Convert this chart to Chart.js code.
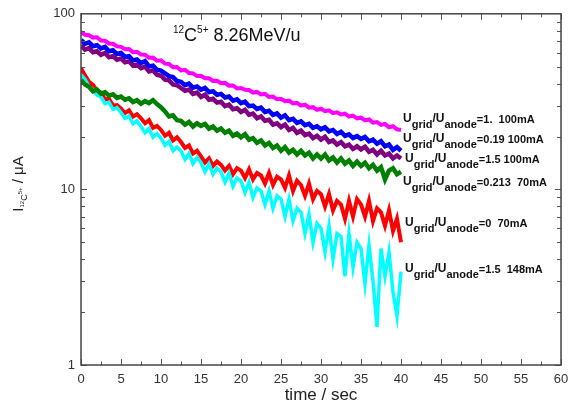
<!DOCTYPE html>
<html>
<head>
<meta charset="utf-8">
<script src="https://cdn.jsdelivr.net/npm/chart.js@4/dist/chart.umd.min.js"></script>
<style>
  body { margin: 0; background: #fff; }
  canvas { display: block; }
</style>
</head>
<body>
<canvas id="beamChart" width="569" height="418"></canvas>
<script>
// time axis: 0 .. 40 s, one sample every 0.5 s
var times = [];
for (var k = 0; k <= 80; k++) times.push(k * 0.5);

var xTicks = [0, 5, 10, 15, 20, 25, 30, 35, 40, 45, 50, 55, 60];
var yTicks = [1, 10, 100];

// beam current in uA
var cur_1_100 = [
  78.5, 76.0, 75.5, 73.2, 73.5, 70.5, 70.2, 67.8, 67.5, 65.2,
  64.8, 62.8, 63.0, 60.5, 60.8, 58.6, 58.5, 56.2, 56.3, 54.0,
  54.3, 52.0, 51.8, 49.6, 49.8, 47.6, 48.0, 46.0, 45.8, 44.2,
  44.4, 43.0, 42.9, 41.5, 41.6, 40.2, 40.4, 39.0, 39.1, 37.6,
  37.8, 36.9, 36.8, 35.6, 35.9, 34.7, 35.0, 33.6, 33.8, 32.6,
  32.8, 31.8, 32.0, 30.9, 31.1, 30.0, 30.4, 29.2, 29.4, 28.4,
  28.8, 27.9, 28.2, 27.2, 27.5, 26.7, 27.0, 26.0, 26.3, 25.4,
  25.6, 24.7, 25.0, 24.0, 24.2, 23.3, 23.6, 22.6, 22.9, 22.0,
  21.8
];
var cur_019_100 = [
  71.0, 67.5, 68.8, 65.4, 66.2, 63.5, 64.8, 61.2, 62.0, 59.0,
  59.8, 56.8, 57.4, 54.2, 55.0, 52.4, 53.8, 50.2, 50.6, 48.0,
  47.5, 45.8, 44.2, 43.6, 41.4, 41.0, 39.2, 40.0, 38.0, 38.6,
  37.0, 37.8, 35.8, 36.2, 34.6, 35.0, 33.4, 33.8, 32.0, 32.6,
  31.0, 31.6, 29.8, 30.0, 28.7, 29.2, 27.6, 28.0, 26.6, 27.1,
  25.6, 26.4, 24.8, 25.2, 23.9, 24.4, 23.2, 23.6, 22.4, 22.9,
  22.0, 22.6, 21.4, 21.8, 20.7, 21.3, 20.2, 20.6, 19.6, 20.1,
  19.4, 19.9, 18.8, 19.2, 18.2, 18.8, 17.6, 18.0, 16.8, 17.4,
  16.6
];
var cur_15_100 = [
  66.0, 62.6, 63.8, 60.4, 61.2, 58.4, 59.8, 56.6, 57.4, 54.8,
  55.6, 53.0, 53.6, 50.6, 51.4, 49.0, 50.0, 47.0, 47.6, 45.0,
  44.4, 42.2, 41.8, 39.6, 39.2, 37.8, 36.4, 37.0, 35.0, 35.6,
  33.6, 34.6, 32.4, 32.8, 31.2, 31.6, 29.8, 30.4, 28.6, 29.0,
  27.6, 28.4, 26.6, 27.0, 25.4, 26.0, 24.6, 24.9, 23.4, 23.8,
  22.6, 23.4, 21.8, 22.4, 21.0, 21.6, 20.4, 20.8, 19.6, 20.2,
  19.2, 19.9, 18.6, 19.0, 18.0, 18.6, 17.6, 18.0, 17.0, 17.6,
  16.9, 17.5, 16.4, 16.8, 15.8, 16.6, 15.6, 16.0, 15.0, 15.6,
  15.0
];
var cur_0213_70 = [
  42.0, 39.6, 38.4, 36.2, 37.0, 35.0, 35.8, 34.2, 34.8, 33.2,
  33.8, 32.4, 33.0, 31.4, 32.2, 30.8, 31.8, 31.0, 32.2, 30.6,
  29.4, 27.8, 26.0, 26.4, 24.8, 24.6, 23.4, 24.2, 22.8, 23.8,
  23.0, 23.6, 22.2, 22.8, 21.6, 22.2, 21.0, 21.6, 20.2, 20.8,
  19.8, 20.6, 19.2, 19.6, 18.4, 19.0, 17.8, 18.4, 17.2, 17.8,
  16.6, 17.4, 16.2, 16.8, 15.8, 16.6, 15.6, 16.2, 15.0, 15.8,
  15.0, 15.8, 14.6, 15.2, 14.2, 15.0, 14.0, 14.6, 13.6, 14.4,
  13.6, 14.2, 13.2, 13.8, 12.8, 13.4, 11.4, 12.8, 13.2, 12.2,
  12.6
];
var cur_0_70 = [
  49.0, 44.6, 41.0, 39.4, 36.4, 35.6, 32.6, 32.8, 30.0, 30.2,
  28.8, 27.2, 28.2, 26.0, 26.8, 25.4, 23.8, 24.8, 22.4, 23.0,
  21.8, 20.2, 21.0, 19.0, 19.8, 18.6, 17.2, 17.8, 16.0, 16.6,
  15.4, 14.2, 15.0, 13.6, 14.4, 13.8, 12.8, 13.6, 12.2, 13.2,
  12.8, 11.6, 13.0, 11.4, 12.4, 12.0, 10.8, 12.4, 10.6, 11.8,
  11.4, 10.2, 12.0, 9.8, 11.2, 10.6, 9.2, 10.8, 8.8, 9.8,
  9.4, 8.0, 9.4, 7.6, 8.6, 8.2, 6.8, 8.6, 7.0, 8.8,
  8.2, 7.0, 8.6, 6.6, 7.8, 7.4, 6.2, 7.6, 5.8, 6.8,
  5.0
];
var cur_15_148 = [
  45.0, 42.4, 38.6, 37.2, 34.4, 33.6, 30.8, 31.4, 28.6, 29.2,
  27.4, 25.4, 26.2, 23.6, 24.6, 22.8, 21.0, 22.2, 19.8, 20.8,
  19.6, 17.8, 18.8, 16.6, 17.4, 16.6, 14.8, 16.0, 14.0, 15.2,
  14.2, 12.6, 14.0, 12.2, 13.2, 12.6, 11.0, 12.4, 10.4, 11.6,
  11.2, 9.6, 11.0, 9.0, 10.2, 9.8, 8.2, 9.8, 7.8, 9.2,
  8.8, 7.0, 8.8, 6.6, 7.8, 7.4, 5.6, 7.2, 5.0, 6.4,
  6.0, 4.4, 6.2, 4.0, 5.6, 5.4, 3.2, 5.6, 3.6, 5.0,
  4.6, 2.9, 4.8, 3.0, 1.65, 4.6, 3.2, 4.4, 2.6, 1.9,
  3.4
];

var seriesLabels = ['=1.  100mA', '=0.19 100mA', '=1.5 100mA', '=0.213  70mA', '=0  70mA', '=1.5  148mA'];
var seriesValues = [cur_1_100, cur_019_100, cur_15_100, cur_0213_70, cur_0_70, cur_15_148];
var seriesColors = ['#ff00ff', '#0000ff', '#800080', '#008000', '#ff0000', '#00ffff'];
var lineWidths = [4, 4.5, 4.5, 4.5, 4, 3.5];
var drawOrder = [0, 1, 3, 2, 5, 4];

function toPoints(vals) {
  var pts = [];
  for (var i = 0; i < vals.length; i++) pts.push({x: times[i], y: vals[i]});
  return pts;
}

var datasets = [];
for (var s = 0; s < seriesValues.length; s++) {
  datasets.push({
    label: 'Ugrid/Uanode' + seriesLabels[s],
    data: toPoints(seriesValues[s]),
    borderColor: seriesColors[s],
    borderWidth: lineWidths[s],
    borderJoinStyle: 'miter',
    pointRadius: 0,
    tension: 0,
    order: drawOrder[s]
  });
}

var FONT = '"Liberation Sans", Arial, sans-serif';

// box, inward ticks, titles and the per-curve labels
var decorations = {
  id: 'decorations',
  afterDraw: function (chart) {
    var ctx = chart.ctx;
    var a = chart.chartArea;
    var xs = chart.scales.x, ys = chart.scales.y;
    ctx.save();

    ctx.strokeStyle = '#555';
    ctx.lineWidth = 1;
    ctx.beginPath();
    for (var v = 0; v <= 60; v += 2.5) {
      var px = Math.round(xs.getPixelForValue(v)) + 0.5;
      var len = (v % 5 === 0) ? 6 : 3.5;
      ctx.moveTo(px, a.bottom); ctx.lineTo(px, a.bottom - len);
      ctx.moveTo(px, a.top); ctx.lineTo(px, a.top + len);
    }
    for (var d = 1; d <= 10; d *= 10) {
      for (var m = 1; m <= 9; m++) {
        var py = Math.round(ys.getPixelForValue(m * d)) + 0.5;
        var l2 = (m === 1) ? 6 : 4;
        ctx.moveTo(a.left, py); ctx.lineTo(a.left + l2, py);
        ctx.moveTo(a.right, py); ctx.lineTo(a.right - l2, py);
      }
    }
    ctx.stroke();

    ctx.strokeStyle = '#444';
    ctx.lineWidth = 1.5;
    ctx.strokeRect(a.left, a.top, a.right - a.left, a.bottom - a.top);

    // y axis title, rotated
    ctx.fillStyle = '#222';
    ctx.translate(23, 184);
    ctx.rotate(-Math.PI / 2);
    var parts = [
      {t: 'I', f: '15px ', dy: 0},
      {t: '12', f: '6px ', dy: 1},
      {t: 'C', f: '9px ', dy: 4},
      {t: '5+', f: '6px ', dy: -1},
      {t: ' / \u03bcA', f: '15px ', dy: 0}
    ];
    var total = 0;
    parts.forEach(function (p) { ctx.font = p.f + FONT; p.w = ctx.measureText(p.t).width; total += p.w; });
    var cx = -total / 2;
    ctx.textBaseline = 'alphabetic';
    parts.forEach(function (p) { ctx.font = p.f + FONT; ctx.fillText(p.t, cx, p.dy); cx += p.w; });
    ctx.setTransform(1, 0, 0, 1, 0, 0);

    // plot title
    ctx.fillStyle = '#111';
    var tx = 173;
    var tparts = [
      {t: '12', f: '10px ', dy: -8},
      {t: 'C', f: '18px ', dy: 0},
      {t: '5+', f: '10px ', dy: -8},
      {t: ' 8.26MeV/u', f: '18px ', dy: 0}
    ];
    tparts.forEach(function (p) {
      ctx.font = p.f + FONT;
      ctx.fillText(p.t, tx, 41 + p.dy);
      tx += ctx.measureText(p.t).width;
    });

    // curve labels at the right end
    var labelX = [403, 403, 405, 403, 405, 405];
    var labelY = [122, 142, 162, 185, 226, 272];
    ctx.fillStyle = '#111';
    for (var i = 0; i < seriesLabels.length; i++) {
      var lx = labelX[i], ly = labelY[i];
      var bits = [
        {t: 'U', f: 'bold 12px ', dy: 0},
        {t: 'grid', f: 'bold 11px ', dy: 6},
        {t: '/U', f: 'bold 12px ', dy: 0},
        {t: 'anode', f: 'bold 11px ', dy: 6},
        {t: seriesLabels[i], f: 'bold 11px ', dy: 1}
      ];
      bits.forEach(function (b) {
        ctx.font = b.f + FONT;
        ctx.fillText(b.t, lx, ly + b.dy);
        lx += ctx.measureText(b.t).width;
      });
    }
    ctx.restore();
  }
};

var ctx = document.getElementById('beamChart').getContext('2d');
var chart = new Chart(ctx, {
  type: 'line',
  data: { datasets: datasets },
  options: {
    responsive: false,
    animation: false,
    devicePixelRatio: 1,
    layout: { padding: { left: 0, right: 0, top: 13, bottom: 0 } },
    plugins: { legend: { display: false }, tooltip: { enabled: false } },
    scales: {
      x: {
        type: 'linear',
        min: 0, max: 60,
        grid: { display: false, drawTicks: false },
        border: { display: false },
        afterBuildTicks: function (s) { s.ticks = xTicks.map(function (v) { return {value: v}; }); },
        afterFit: function (s) { s.height = 53; s.paddingLeft = 0; s.paddingRight = 8; },
        ticks: { padding: 7, autoSkip: false, maxRotation: 0, color: '#333', font: { family: FONT, size: 13 } },
        title: { display: true, text: 'time / sec', color: '#222', font: { family: FONT, size: 17 }, padding: { top: 0, bottom: 12 } }
      },
      y: {
        type: 'logarithmic',
        min: 1, max: 100,
        grid: { display: false, drawTicks: false },
        border: { display: false },
        afterBuildTicks: function (s) { s.ticks = yTicks.map(function (v) { return {value: v}; }); },
        afterFit: function (s) { s.width = 81; },
        ticks: { padding: 6, color: '#333', font: { family: FONT, size: 13 }, callback: function (v) { return String(v); } }
      }
    }
  },
  plugins: [decorations]
});
</script>
</body>
</html>
